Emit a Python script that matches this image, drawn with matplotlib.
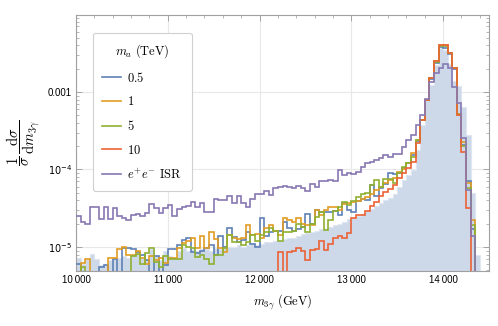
import numpy as np
import matplotlib
matplotlib.use("Agg")
import matplotlib.pyplot as plt
from matplotlib.ticker import FixedLocator, NullFormatter

plt.rcParams['mathtext.fontset'] = 'cm'
plt.rcParams['font.family'] = ['Liberation Sans', 'DejaVu Sans']

# bin edges of the m_3gamma histogram (GeV), 50 GeV bins
edges = np.arange(10000, 14401, 50)

# dsigma/dm normalised, in units of 1e-5 (0.2 means off the bottom of the plot)
fill_bg = [0.73, 0.61, 0.7, 0.82, 0.71, 0.58, 0.6, 0.67, 0.71, 0.73,
           0.77, 0.73, 0.8, 0.84, 0.73, 0.7, 0.93, 0.77, 0.67, 0.88,
           0.77, 0.73, 0.88, 0.96, 0.9, 0.93, 0.9, 0.93, 0.95, 0.9,
           0.96, 0.93, 0.98, 1.0, 1.0, 1.05, 1.0, 1.05, 1.1, 1.05,
           1.1, 1.17, 1.15, 1.2, 1.2, 1.25, 1.3, 1.3, 1.4, 1.45,
           1.5, 1.55, 1.6, 1.7, 1.7, 1.8, 1.9, 2.0, 2.1, 2.3,
           2.4, 2.5, 2.7, 2.9, 3.1, 3.4, 3.7, 4.0, 4.3, 4.9,
           6.0, 7.3, 8.5, 9.9, 17.8, 37.6, 79, 123, 223, 365,
           348, 230, 140, 120, 64, 28, 5.0, 0.8]

ma_05 = [0.6, 0.2, 0.2, 0.2, 0.2, 0.56, 0.58, 0.2, 0.7, 0.2,
         0.96, 0.96, 0.93, 0.85, 0.8, 0.67, 0.2, 0.77, 0.2, 0.58,
         0.94, 0.94, 1.06, 1.22, 1.3, 0.87, 0.83, 0.9, 0.96, 1.06,
         0.8, 1.4, 1.0, 1.74, 1.33, 1.17, 1.22, 1.58, 1.1, 1.0,
         2.4, 1.37, 1.58, 1.6, 1.6, 2.12, 1.78, 1.6, 1.7, 1.8,
         2.7, 2.0, 3.0, 2.8, 2.8, 2.8, 2.9, 2.6, 3.7, 3.0,
         2.8, 3.9, 4.2, 4.0, 6.3, 4.5, 5.8, 6.5, 8.9, 8.75,
         9.0, 10.5, 12.0, 15.5, 23, 44, 80, 148, 238, 385,
         375, 310, 200, 52, 20.9, 7.0, 1.7, 0.2]

ma_1 = [0.2, 0.62, 0.7, 0.2, 0.2, 0.2, 0.2, 0.73, 0.73, 0.94,
        1.0, 0.8, 0.8, 0.9, 0.73, 0.61, 0.77, 0.67, 0.73, 0.62,
        0.73, 0.73, 0.96, 1.11, 1.2, 1.3, 0.96, 1.4, 0.96, 1.55,
        1.25, 0.96, 0.87, 1.43, 1.3, 1.28, 1.3, 1.9, 1.43, 1.45,
        1.3, 1.74, 1.92, 1.6, 1.43, 2.34, 2.23, 2.1, 2.34, 2.0,
        1.9, 1.95, 3.0, 2.6, 3.0, 3.3, 3.3, 3.0, 3.6, 3.7,
        3.85, 3.95, 4.1, 4.4, 4.9, 5.4, 5.9, 6.6, 7.4, 7.7,
        9.4, 10.0, 12.0, 16.2, 24, 44, 80, 152, 248, 405,
        400, 318, 205, 52, 22.5, 6.7, 2.2, 0.2]

ma_5 = [0.2, 0.56, 0.2, 0.2, 0.2, 0.2, 0.2, 0.2, 0.2, 0.2,
        0.2, 0.2, 0.77, 0.82, 0.61, 0.84, 0.96, 0.64, 0.56, 0.77,
        0.7, 0.7, 0.7, 1.06, 1.0, 0.96, 0.75, 0.79, 0.71, 0.6,
        0.79, 0.8, 0.96, 1.43, 1.17, 1.15, 1.06, 1.17, 1.43, 1.2,
        1.43, 1.58, 1.74, 1.6, 1.2, 1.58, 1.58, 1.6, 2.0, 1.8,
        1.55, 2.0, 2.45, 2.8, 1.65, 2.2, 2.9, 3.3, 3.8, 3.5,
        3.95, 4.4, 4.8, 5.0, 6.3, 7.3, 5.9, 7.5, 7.6, 6.6,
        8.9, 10.9, 12.2, 14.6, 24, 44, 80, 150, 245, 395,
        392, 320, 202, 50, 20, 5.7, 1.9, 0.2]

ma_10 = [0.2] * 44 + [
         0.86, 0.2, 0.86, 0.9, 0.96, 0.9,
         0.68, 0.91, 0.93, 1.2, 0.91, 1.1, 1.3, 1.4, 1.3, 1.5,
         2.4, 2.6, 2.6, 2.95, 3.4, 3.8, 4.5, 5.2, 5.6, 6.4,
         7.7, 8.9, 10.4, 12.6, 21.8, 44, 80, 150, 248, 410,
         405, 321, 202, 50, 17, 3.2, 0.2, 0.2]

isr = [2.5, 2.1, 2.0, 3.3, 3.3, 2.3, 3.3, 2.3, 3.2, 2.5,
       2.4, 2.2, 2.6, 2.7, 2.5, 2.75, 3.6, 3.2, 2.75, 3.2,
       3.5, 2.5, 3.1, 3.3, 3.4, 3.8, 3.3, 3.7, 2.8, 2.8,
       4.2, 4.0, 4.0, 4.5, 3.7, 4.5, 3.7, 3.3, 4.1, 4.8,
       4.9, 5.3, 4.7, 5.7, 5.9, 6.1, 5.9, 5.7, 6.1, 5.7,
       5.3, 6.5, 5.9, 7.0, 7.0, 7.3, 7.0, 9.9, 8.5, 9.1,
       8.8, 9.4, 10.9, 12.0, 12.6, 13.3, 13.9, 15.4, 14.6, 15.9,
       15.9, 19.7, 24, 28, 37, 50, 82, 136, 174, 202,
       230, 202, 117, 71.5, 25.3, 5.4, 1.4, 0.1]

labels = [r"$0.5$", r"$1$", r"$5$", r"$10$", r"$e^{+}e^{-}\ \mathrm{ISR}$"]
colors = ['#5e81b5', '#e19c24', '#8fb032', '#eb6235', '#8778b3']
series = [ma_05, ma_1, ma_5, ma_10, isr]

fig = plt.figure(figsize=(4.98, 3.26), dpi=100)
ax = fig.add_axes([76/498, 1-271/326, 413/498, 256/326])

ax.stairs(np.array(fill_bg)*1e-5, edges, fill=True, baseline=1e-9,
          facecolor='#cdd8e9', edgecolor='none', zorder=1)
ax.stairs(np.array(fill_bg)*1e-5, edges, baseline=1e-9,
          color='#dfe6f1', lw=0.8, zorder=1.5)

for i, (vals, col, lab) in enumerate(zip(series, colors, labels)):
    ax.stairs(np.array(vals)*1e-5, edges, baseline=None, color=col,
              lw=1.2, label=lab, zorder=3+i)

ax.set_yscale('log')
ax.set_xlim(10000, 14500)
ax.set_ylim(4.9e-6, 9.85e-3)

ax.set_xticks([10000, 11000, 12000, 13000, 14000])
ax.set_xticklabels(["10\u2009000", "11\u2009000", "12\u2009000",
                    "13\u2009000", "14\u2009000"])
ax.xaxis.set_minor_locator(FixedLocator(np.arange(10000, 14501, 200)))

ax.set_yticks([1e-5, 1e-4, 1e-3])
ytl = ax.set_yticklabels([r"$10^{-5}$", r"$10^{-4}$", "0.001"])
for t in ytl:
    t.set_math_fontfamily('dejavusans')
minors = [m * 10.0**e for e in range(-6, -1) for m in range(2, 10)]
ax.yaxis.set_minor_locator(FixedLocator(minors))
ax.yaxis.set_minor_formatter(NullFormatter())

ax.tick_params(which='both', direction='in', top=True, right=True,
               color='#9a9a9a', labelsize=7, pad=3)
ax.tick_params(which='major', length=4, width=0.6)
ax.tick_params(which='minor', length=2.2, width=0.5)
for s in ax.spines.values():
    s.set_color('#a0a0a0')
    s.set_linewidth(0.8)
ax.grid(True, which='major', color='#e8e8e8', lw=0.8, zorder=0)
ax.set_axisbelow(True)

ax.set_xlabel(r"$m_{3\gamma}\ (\mathrm{GeV})$", fontsize=9, labelpad=5)
ax.set_ylabel(r"$\dfrac{1}{\sigma}\,\dfrac{\mathrm{d}\sigma}{\mathrm{d}m_{3\gamma}}$",
              fontsize=10.5, labelpad=4)

leg = ax.legend(loc='upper left', bbox_to_anchor=(0.041, 0.93),
                borderaxespad=0,
                title=r"$m_a\ (\mathrm{TeV})$", fontsize=9, title_fontsize=9,
                handlelength=1.5, handletextpad=0.5, labelspacing=0.85,
                borderpad=0.75, frameon=True, fancybox=True, framealpha=1,
                edgecolor='#d0d0d0', alignment='center')
leg.get_frame().set_linewidth(0.8)
leg.set_zorder(20)

fig.savefig('out.png', dpi=100)
